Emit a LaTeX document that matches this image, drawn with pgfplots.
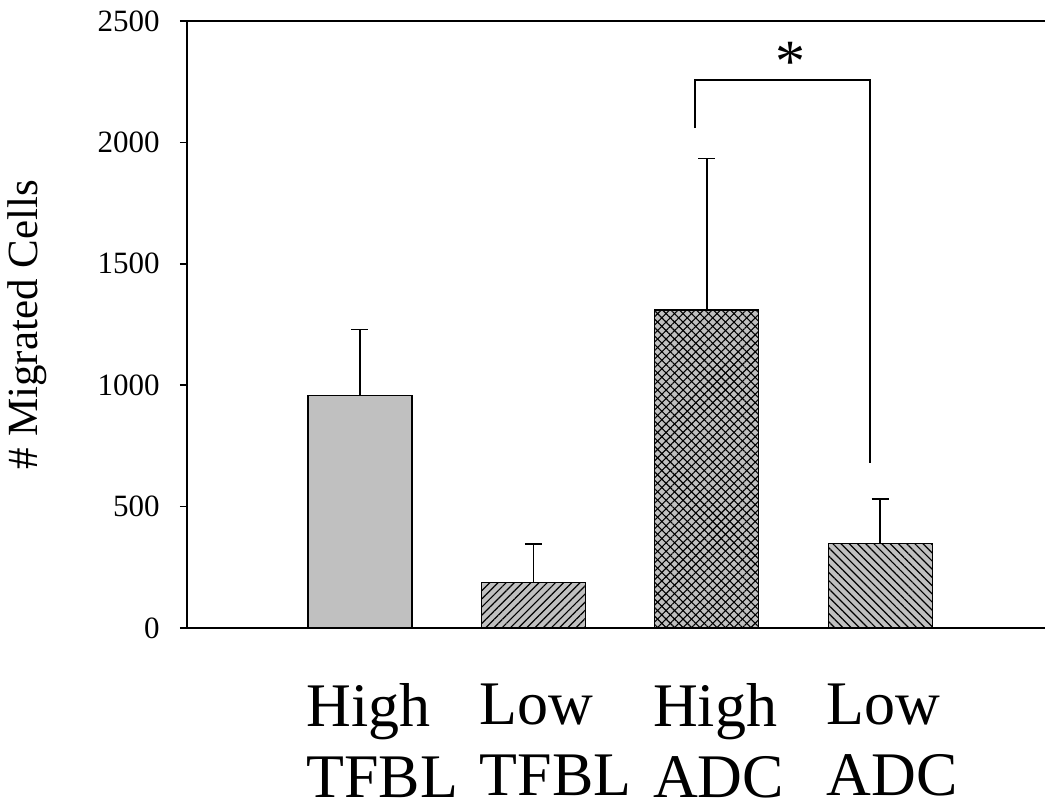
\documentclass[border=0pt]{standalone}
\usepackage{fontspec}
\setmainfont{Liberation Serif}
\usepackage{pgfplots}
\pgfplotsset{compat=1.18}
\usetikzlibrary{patterns.meta}
\definecolor{barfill}{HTML}{C0C0C0}
\begin{document}
\begin{tikzpicture}
\path[use as bounding box] (-93.5pt,-91pt) rectangle (429pt,314pt);
\begin{axis}[
 at={(0,0)}, anchor=south west,
 scale only axis, width=429pt, height=303.5pt,
 xmin=-0.997, xmax=3.95, ymin=0, ymax=2500,
 axis x line=box, axis y line=left, axis line style={-, line width=1pt},
 ytick={0,500,...,2500}, tick align=outside, major tick length=3.5pt,
 ytick style={line width=0.8pt, black},
 xtick={0,1,2,3}, xtick style={draw=none},
 xticklabels={{High\\TFBL},{Low\\TFBL},{High\\ADC},{Low\\ADC}},
 xticklabel style={font=\fontsize{31}{35.5}\selectfont, align=left, anchor=north west, inner sep=0pt, xshift=-27pt, yshift=-24pt},
 yticklabel style={font=\fontsize{15.5}{18}\selectfont, inner sep=0pt, xshift=-10pt},
 /pgf/number format/assume math mode=true,
 /pgf/number format/1000 sep={},
 scaled y ticks=false,
 ylabel={\# Migrated Cells},
 ylabel style={at={(axis description cs:-0.1865,0.5)}, anchor=center, font=\fontsize{21.5}{24}\selectfont},
 ybar, bar width=52pt,
 clip=false,
]
\addplot[draw=black, line width=0.6pt, fill=barfill, bar shift=0pt,
  error bars/.cd, y dir=plus, y explicit, error mark=|,
  error bar style={line width=0.75pt, black},
  error mark options={mark size=4.25pt, line width=0.75pt, black}]
  coordinates {(0,957) +- (0,272)};
\addplot[draw=black, line width=0.6pt, fill=barfill, bar shift=0pt,
  postaction={pattern={Lines[angle=45,distance=2.9pt,line width=0.6pt]}, pattern color=black},
  error bars/.cd, y dir=plus, y explicit, error mark=|,
  error bar style={line width=0.75pt, black},
  error mark options={mark size=4.25pt, line width=0.75pt, black}]
  coordinates {(1,188) +- (0,158)};
\addplot[draw=black, line width=0.6pt, fill=barfill, bar shift=0pt,
  postaction={pattern={Lines[angle=45,distance=3pt,line width=0.55pt]}, pattern color=black},
  postaction={pattern={Lines[angle=-45,distance=3pt,line width=0.55pt]}, pattern color=black},
  error bars/.cd, y dir=plus, y explicit, error mark=|,
  error bar style={line width=0.75pt, black},
  error mark options={mark size=4.25pt, line width=0.75pt, black}]
  coordinates {(2,1310) +- (0,624)};
\addplot[draw=black, line width=0.6pt, fill=barfill, bar shift=0pt,
  postaction={pattern={Lines[angle=-45,distance=2.9pt,line width=0.6pt]}, pattern color=black},
  error bars/.cd, y dir=plus, y explicit, error mark=|,
  error bar style={line width=0.75pt, black},
  error mark options={mark size=4.25pt, line width=0.75pt, black}]
  coordinates {(3,349) +- (0,182)};
\draw[line width=0.8pt] (axis cs:1.932,2059) -- (axis cs:1.932,2257) -- (axis cs:2.941,2257) -- (axis cs:2.941,680);
\node[anchor=base, font=\fontsize{30}{30}\selectfont, inner sep=0pt] at (axis cs:2.48,2250) {*};
\end{axis}
\end{tikzpicture}
\end{document}
